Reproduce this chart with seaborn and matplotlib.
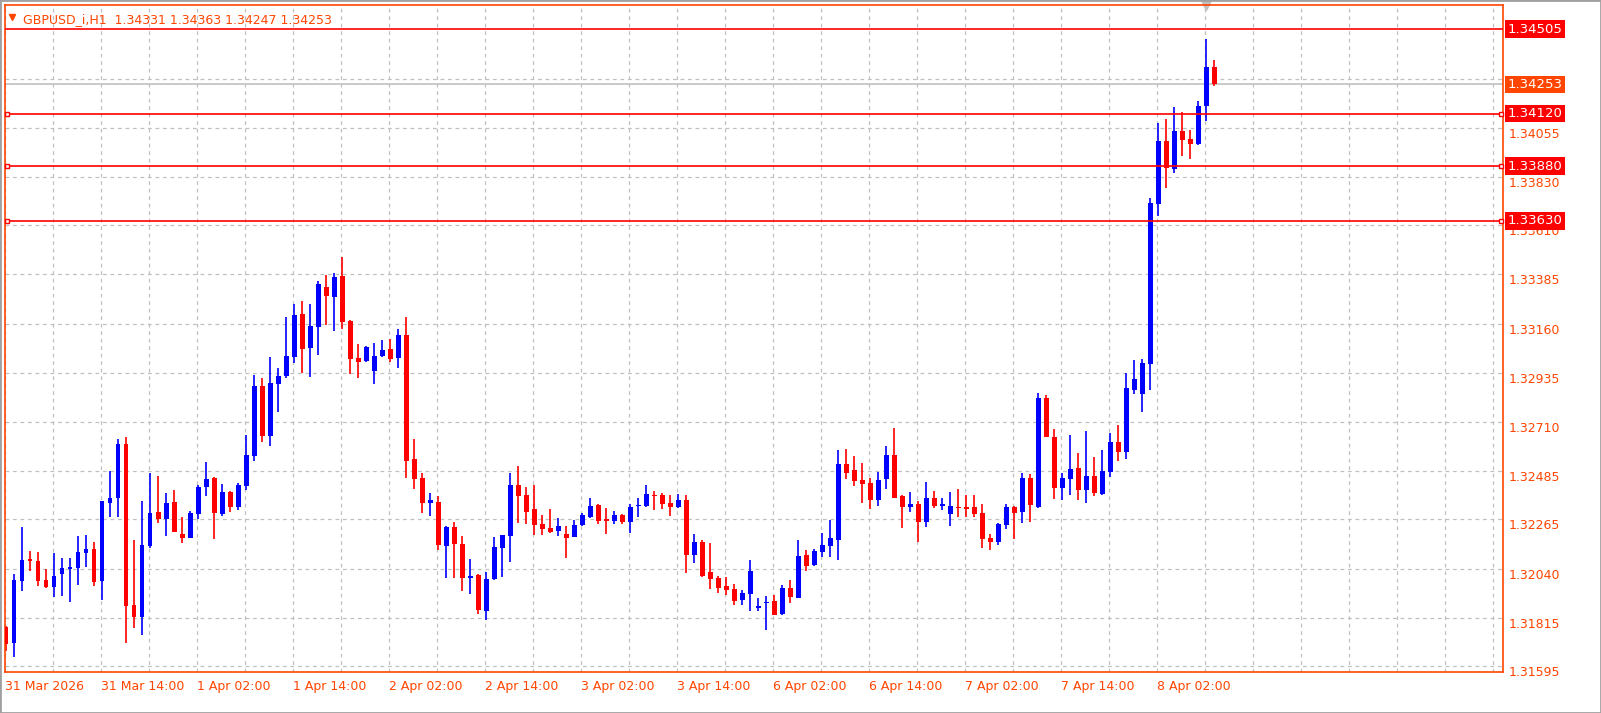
import matplotlib
matplotlib.use("Agg")
import matplotlib.pyplot as plt
import matplotlib.transforms as mtransforms
from matplotlib.patches import Rectangle
import numpy as np
import pandas as pd
import seaborn as sns

# OHLC of GBPUSD H1, bar 0 = 31 Mar 02:00
opens = [1.31774, 1.31700, 1.31984, 1.32084, 1.32075, 1.31988, 1.31956, 1.32016, 1.32039, 1.32043,
         1.32112, 1.32130, 1.31984, 1.32342, 1.32361, 1.32612, 1.31874, 1.31819, 1.32144, 1.32299,
         1.32267, 1.32347, 1.32199, 1.32181, 1.32290, 1.32413, 1.32455, 1.32290, 1.32391, 1.32322,
         1.32418, 1.32555, 1.32875, 1.32646, 1.32884, 1.32921, 1.33007, 1.33204, 1.33049, 1.33145,
         1.33327, 1.33282, 1.33378, 1.33172, 1.33003, 1.32989, 1.32944, 1.33012, 1.33044, 1.33003,
         1.33108, 1.32541, 1.32455, 1.32342, 1.32347, 1.32144, 1.32231, 1.32153, 1.31997, 1.32011,
         1.31847, 1.31993, 1.32135, 1.32190, 1.32423, 1.32377, 1.32313, 1.32245, 1.32226, 1.32212,
         1.32199, 1.32185, 1.32240, 1.32276, 1.32331, 1.32267, 1.32258, 1.32285, 1.32254, 1.32327,
         1.32327, 1.32377, 1.32377, 1.32342, 1.32322, 1.32354, 1.32103, 1.32162, 1.32025, 1.31997,
         1.31961, 1.31947, 1.31897, 1.31924, 1.31860, 1.31883, 1.31892, 1.31833, 1.31952, 1.31906,
         1.32103, 1.32057, 1.32116, 1.32144, 1.32171, 1.32519, 1.32491, 1.32445, 1.32432, 1.32354,
         1.32450, 1.32560, 1.32372, 1.32322, 1.32336, 1.32254, 1.32363, 1.32327, 1.32290, 1.32322,
         1.32322, 1.32322, 1.32295, 1.32181, 1.32162, 1.32240, 1.32322, 1.32299, 1.32455, 1.32322,
         1.32820, 1.32642, 1.32409, 1.32450, 1.32500, 1.32400, 1.32464, 1.32381, 1.32482, 1.32619,
         1.32573, 1.32857, 1.32838, 1.32975, 1.33707, 1.33995, 1.33867, 1.34040, 1.34004, 1.33981,
         1.34155, 1.34331]
highs = [1.31780, 1.32016, 1.32231, 1.32121, 1.32116, 1.32039, 1.32112, 1.32089, 1.32089, 1.32189,
         1.32194, 1.32162, 1.32350, 1.32488, 1.32631, 1.32643, 1.32171, 1.32348, 1.32477, 1.32464,
         1.32386, 1.32400, 1.32276, 1.32304, 1.32423, 1.32526, 1.32460, 1.32427, 1.32395, 1.32432,
         1.32651, 1.32925, 1.32912, 1.33007, 1.32957, 1.33190, 1.33250, 1.33263, 1.33250, 1.33353,
         1.33382, 1.33391, 1.33464, 1.33177, 1.33067, 1.33058, 1.33072, 1.33085, 1.33090, 1.33136,
         1.33190, 1.32631, 1.32477, 1.32386, 1.32372, 1.32235, 1.32254, 1.32190, 1.32084, 1.32016,
         1.32025, 1.32185, 1.32194, 1.32477, 1.32509, 1.32413, 1.32423, 1.32285, 1.32313, 1.32272,
         1.32235, 1.32263, 1.32295, 1.32363, 1.32335, 1.32317, 1.32304, 1.32290, 1.32336, 1.32363,
         1.32423, 1.32395, 1.32386, 1.32377, 1.32381, 1.32377, 1.32199, 1.32171, 1.32158, 1.32007,
         1.32002, 1.31970, 1.31943, 1.32080, 1.31906, 1.31915, 1.31920, 1.31965, 1.31988, 1.32171,
         1.32126, 1.32130, 1.32203, 1.32263, 1.32583, 1.32587, 1.32555, 1.32523, 1.32455, 1.32482,
         1.32601, 1.32683, 1.32375, 1.32391, 1.32349, 1.32436, 1.32395, 1.32363, 1.32391, 1.32404,
         1.32377, 1.32377, 1.32336, 1.32199, 1.32249, 1.32336, 1.32325, 1.32477, 1.32473, 1.32843,
         1.32834, 1.32679, 1.32477, 1.32651, 1.32569, 1.32669, 1.32551, 1.32583, 1.32660, 1.32697,
         1.32934, 1.32994, 1.32998, 1.33734, 1.34077, 1.34095, 1.34150, 1.34127, 1.34045, 1.34177,
         1.34461, 1.34363]
lows = [1.31664, 1.31637, 1.31938, 1.32030, 1.31961, 1.31952, 1.31911, 1.31915, 1.31888, 1.31965,
        1.32048, 1.31961, 1.31897, 1.32276, 1.32276, 1.31700, 1.31769, 1.31737, 1.32135, 1.32249,
        1.32190, 1.32208, 1.32158, 1.32180, 1.32267, 1.32372, 1.32176, 1.32281, 1.32299, 1.32308,
        1.32400, 1.32532, 1.32619, 1.32601, 1.32756, 1.32912, 1.32980, 1.32934, 1.32916, 1.33017,
        1.33154, 1.33126, 1.33136, 1.32930, 1.32912, 1.32985, 1.32884, 1.33007, 1.32985, 1.32957,
        1.32455, 1.32404, 1.32295, 1.32281, 1.32126, 1.31997, 1.31997, 1.31938, 1.31924, 1.31833,
        1.31806, 1.31988, 1.32002, 1.32071, 1.32249, 1.32245, 1.32194, 1.32194, 1.32203, 1.32190,
        1.32089, 1.32185, 1.32235, 1.32272, 1.32245, 1.32199, 1.32245, 1.32245, 1.32203, 1.32276,
        1.32322, 1.32308, 1.32313, 1.32281, 1.32318, 1.32020, 1.32066, 1.32002, 1.31947, 1.31929,
        1.31920, 1.31874, 1.31874, 1.31847, 1.31847, 1.31760, 1.31828, 1.31830, 1.31883, 1.31904,
        1.32030, 1.32052, 1.32094, 1.32094, 1.32080, 1.32450, 1.32418, 1.32342, 1.32313, 1.32327,
        1.32404, 1.32363, 1.32226, 1.32299, 1.32162, 1.32231, 1.32317, 1.32308, 1.32235, 1.32276,
        1.32276, 1.32276, 1.32135, 1.32126, 1.32148, 1.32222, 1.32176, 1.32249, 1.32254, 1.32317,
        1.32642, 1.32359, 1.32354, 1.32377, 1.32354, 1.32342, 1.32372, 1.32377, 1.32459, 1.32532,
        1.32541, 1.32838, 1.32756, 1.32857, 1.33652, 1.33780, 1.33848, 1.33926, 1.33912, 1.33975,
        1.34086, 1.34247]
closes = [1.31696, 1.31988, 1.32080, 1.32075, 1.31984, 1.31956, 1.32007, 1.32043, 1.32048, 1.32116,
          1.32130, 1.31979, 1.32348, 1.32365, 1.32612, 1.31870, 1.31819, 1.32148, 1.32295, 1.32267,
          1.32342, 1.32208, 1.32181, 1.32295, 1.32413, 1.32450, 1.32295, 1.32391, 1.32322, 1.32423,
          1.32560, 1.32875, 1.32646, 1.32889, 1.32921, 1.33012, 1.33199, 1.33044, 1.33149, 1.33341,
          1.33286, 1.33373, 1.33167, 1.32998, 1.32985, 1.33053, 1.33012, 1.33039, 1.32998, 1.33108,
          1.32532, 1.32450, 1.32342, 1.32354, 1.32148, 1.32231, 1.32153, 1.31997, 1.32007, 1.31851,
          1.31993, 1.32139, 1.32194, 1.32423, 1.32372, 1.32299, 1.32240, 1.32222, 1.32208, 1.32235,
          1.32181, 1.32240, 1.32285, 1.32327, 1.32258, 1.32258, 1.32285, 1.32254, 1.32322, 1.32331,
          1.32381, 1.32372, 1.32336, 1.32322, 1.32354, 1.32103, 1.32162, 1.32007, 1.31993, 1.31952,
          1.31943, 1.31892, 1.31929, 1.32030, 1.31870, 1.31888, 1.31828, 1.31952, 1.31911, 1.32098,
          1.32052, 1.32121, 1.32148, 1.32181, 1.32519, 1.32477, 1.32441, 1.32427, 1.32354, 1.32445,
          1.32560, 1.32363, 1.32322, 1.32336, 1.32254, 1.32363, 1.32327, 1.32336, 1.32327, 1.32317,
          1.32313, 1.32290, 1.32176, 1.32162, 1.32245, 1.32322, 1.32295, 1.32455, 1.32331, 1.32820,
          1.32642, 1.32409, 1.32455, 1.32496, 1.32400, 1.32464, 1.32386, 1.32487, 1.32619, 1.32573,
          1.32866, 1.32907, 1.32980, 1.33711, 1.33995, 1.33871, 1.34040, 1.33999, 1.33981, 1.34155,
          1.34331, 1.34253]

price_ticks = [1.31595, 1.31815, 1.32040, 1.32265, 1.32485, 1.32710, 1.32935,
               1.33160, 1.33385, 1.33610, 1.33830, 1.34055, 1.34280]
level_lines = [1.34505, 1.34120, 1.33880, 1.33630]
last_price = 1.34253
time_labels = ["31 Mar 2026", "31 Mar 14:00", "1 Apr 02:00", "1 Apr 14:00", "2 Apr 02:00",
               "2 Apr 14:00", "3 Apr 02:00", "3 Apr 14:00", "6 Apr 02:00", "6 Apr 14:00",
               "7 Apr 02:00", "7 Apr 14:00", "8 Apr 02:00"]
header = "GBPUSD_i,H1  1.34331 1.34363 1.34247 1.34253"

df = pd.DataFrame({"open": opens, "high": highs, "low": lows, "close": closes})
df["bar"] = np.arange(len(df))
df["up"] = df["close"] >= df["open"]

sns.set_style("white")
plt.rcParams["font.family"] = ["DejaVu Sans"]

ORANGE = "#FF4500"
UP = "#0000FF"
DOWN = "#FF0000"

fig = plt.figure(figsize=(16.01, 7.13), dpi=100)
ax = fig.add_axes([5 / 1601, 41 / 713, 1498 / 1601, 667 / 713])
ax.set_facecolor("white")

x0, x1 = -0.125, 187.1
y0, y1 = 1.31568, 1.34616
ax.set_xlim(x0, x1)
ax.set_ylim(y0, y1)

# grid
for gx in np.arange(-0.125, x1, 6):
    ax.axvline(gx, color="#c0c0c0", lw=0.9, ls=(0, (3, 3)), zorder=0)
for gy in price_ticks:
    ax.axhline(gy, color="#c0c0c0", lw=0.9, ls=(0, (3, 3)), zorder=0)

# candles
colors = np.where(df["up"], UP, DOWN)
ax.vlines(df["bar"], df["low"], df["high"], colors=colors, lw=1.2, zorder=2)
body_lo = np.minimum(df["open"], df["close"])
body_h = np.maximum(np.abs(df["close"] - df["open"]), 0.00003)
ax.bar(df["bar"], body_h, bottom=body_lo, width=0.62, color=colors, lw=0, zorder=3)

# price levels
trans = mtransforms.blended_transform_factory(ax.transAxes, ax.transData)
ax.axhline(last_price, color="#c0c0c0", lw=1.2, zorder=1)
for i, lv in enumerate(level_lines):
    ax.axhline(lv, color=DOWN, lw=1.2, zorder=4)
    if i > 0:
        for xa in (0.0015, 0.9985):
            ax.plot([xa], [lv], marker="s", ms=3.5, mfc="white", mec=DOWN, mew=1,
                    transform=trans, clip_on=False, zorder=5)

for gy in price_ticks:
    ax.text(1.004, gy, f"{gy:.5f}", transform=trans, color=ORANGE, fontsize=9,
            va="top", ha="left", clip_on=False)
for lv in level_lines:
    ax.text(1.003, lv, f"{lv:.5f}", transform=trans, color="white", fontsize=9.5,
            va="center", ha="left", zorder=6,
            bbox=dict(boxstyle="square,pad=0.18", fc=DOWN, ec="none"))
ax.text(1.003, last_price, f"{last_price:.5f}", transform=trans, color="white",
        fontsize=9.5, va="center", ha="left", zorder=6,
        bbox=dict(boxstyle="square,pad=0.18", fc=ORANGE, ec="none"))

# time axis
tick_pos = np.arange(len(time_labels)) * 12 - 0.125
ax.set_xticks(tick_pos)
ax.set_xticklabels(time_labels, ha="left", color=ORANGE, fontsize=9)
ax.tick_params(axis="x", length=4, color=ORANGE, pad=2)
ax.set_yticks([])

for s in ax.spines.values():
    s.set_color(ORANGE)
    s.set_linewidth(1.2)

ax.text(0.012, 0.988, header, transform=ax.transAxes, color=ORANGE, fontsize=9,
        va="top", ha="left")
ax.plot([0.0045], [0.982], marker="v", ms=5, color=ORANGE, transform=ax.transAxes,
        clip_on=False)
ax.plot([1201 / 1498], [1.0], marker="v", ms=7, color="#c0c0c0",
        transform=ax.transAxes, clip_on=False)

fig.patches.append(Rectangle((0, 0), 1, 1, transform=fig.transFigure, fill=False,
                             ec="#a0a0a0", lw=2))

fig.savefig("out.png", dpi=100, facecolor="white")
